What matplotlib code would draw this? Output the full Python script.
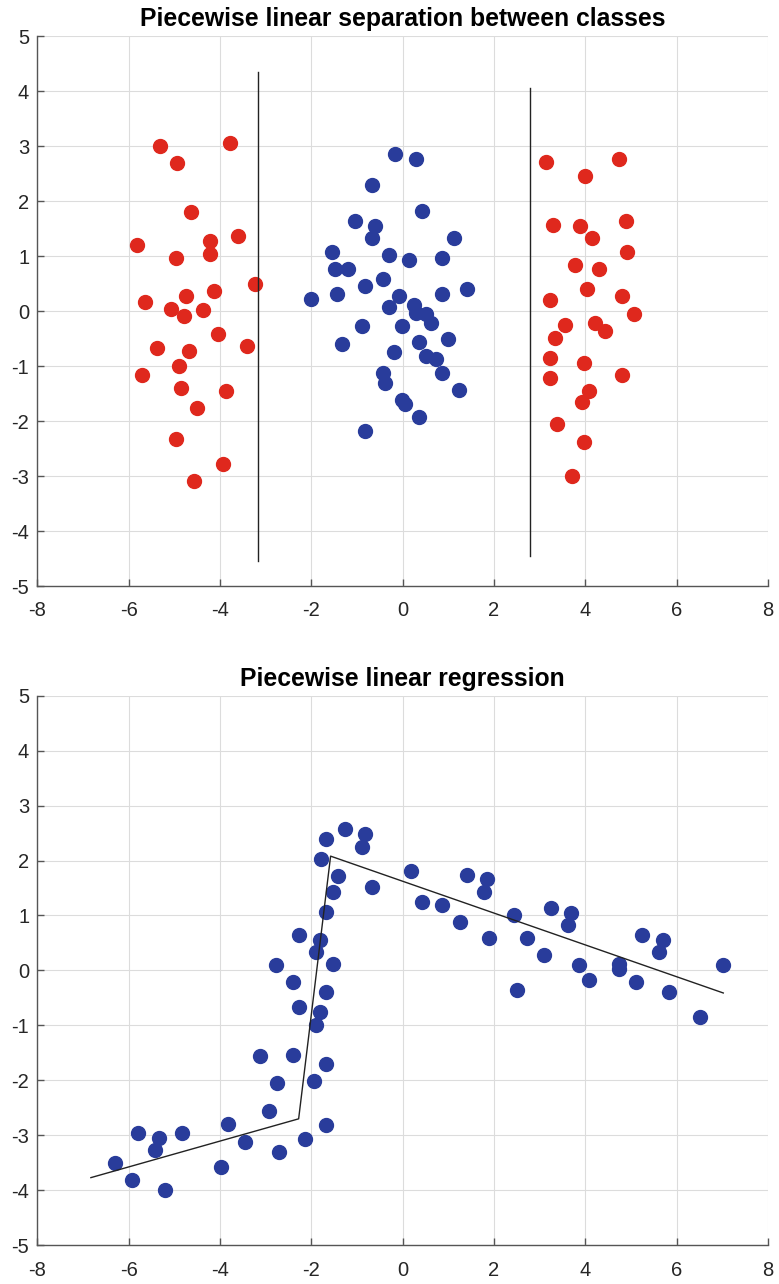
import numpy as np
import matplotlib
matplotlib.use('Agg')
import matplotlib.pyplot as plt

plt.rcParams['font.family'] = ['Liberation Sans', 'DejaVu Sans']
plt.rcParams['axes.unicode_minus'] = False

# top chart: two red groups, one blue group, two vertical separators
red_left_x = [-5.31, -3.79, -4.95, -4.64, -5.82, -4.23, -3.60, -4.23, -4.97, -3.23,
              -4.13, -4.75, -5.64, -5.08, -4.78, -4.38, -4.05, -3.42, -5.38, -4.68,
              -4.89, -5.71, -4.86, -3.86, -4.50, -4.97, -3.94, -4.57]
red_left_y = [3.01, 3.06, 2.70, 1.81, 1.20, 1.28, 1.36, 1.04, 0.96, 0.50,
              0.37, 0.28, 0.16, 0.03, -0.09, 0.01, -0.42, -0.64, -0.67, -0.73,
              -1.00, -1.16, -1.40, -1.46, -1.76, -2.33, -2.78, -3.09]

blue_mid_x = [-0.16, 0.29, -0.67, 0.43, -1.04, -0.60, -0.68, 1.13, -1.56, -0.30,
              0.14, 0.87, -1.48, -1.20, -0.44, -0.82, 1.40, -1.45, 0.87, -2.01,
              -0.08, -0.30, 0.25, 0.29, 0.51, 0.62, -0.89, -0.01, 0.36, 0.99,
              -1.34, -0.19, 0.50, 0.73, 0.87, -0.44, -0.38, 1.24, -0.01, 0.06,
              0.36, -0.82]
blue_mid_y = [2.86, 2.76, 2.30, 1.82, 1.63, 1.54, 1.33, 1.33, 1.08, 1.02,
              0.93, 0.96, 0.77, 0.77, 0.59, 0.46, 0.40, 0.31, 0.31, 0.22,
              0.28, 0.07, 0.11, -0.04, -0.06, -0.22, -0.27, -0.27, -0.57, -0.51,
              -0.60, -0.75, -0.82, -0.88, -1.13, -1.13, -1.31, -1.44, -1.61, -1.69,
              -1.92, -2.18]

red_right_x = [3.14, 4.74, 4.00, 3.30, 3.88, 4.88, 4.14, 4.92, 3.77, 4.29,
               4.03, 4.81, 3.22, 5.07, 3.55, 4.22, 4.44, 3.33, 3.22, 3.96,
               3.22, 4.80, 4.07, 3.92, 3.37, 3.96, 3.70]
red_right_y = [2.71, 2.77, 2.46, 1.57, 1.54, 1.63, 1.32, 1.08, 0.83, 0.77,
               0.40, 0.28, 0.21, -0.06, -0.25, -0.21, -0.37, -0.49, -0.85, -0.94,
               -1.22, -1.16, -1.46, -1.66, -2.05, -2.39, -3.00]

sep1_x = [-3.17, -3.17]
sep1_y = [4.35, -4.54]
sep2_x = [2.78, 2.78]
sep2_y = [4.05, -4.45]

# bottom chart: noisy points and the piecewise fit
reg_x = [-1.27, -1.67, -1.78, -1.42, -1.53, -1.67, -2.27, -1.82, -1.89, -1.53,
         -2.78, -2.41, -1.67, -2.27, -1.82, -1.89, -3.12, -2.41, -1.67, -2.76,
         -1.94, -2.94, -1.67, -3.83, -2.13, -3.45, -2.72, -5.79, -4.83, -5.33,
         -5.42, -6.31, -3.98, -5.94, -5.20,
         -0.82, -0.90, -0.67, 0.18, 0.43, 0.87, 1.25, 1.40, 1.84, 1.77,
         1.88, 2.44, 2.51, 2.73, 3.10, 3.25, 3.69, 3.62, 3.85, 4.07,
         4.73, 4.73, 5.10, 5.24, 5.70, 5.61, 5.84, 6.52, 7.02]
reg_y = [2.57, 2.39, 2.02, 1.72, 1.43, 1.07, 0.65, 0.56, 0.33, 0.12,
         0.10, -0.21, -0.39, -0.67, -0.76, -0.99, -1.56, -1.53, -1.71, -2.05,
         -2.01, -2.56, -2.81, -2.80, -3.06, -3.12, -3.30, -2.95, -2.95, -3.04,
         -3.26, -3.51, -3.57, -3.81, -3.99,
         2.49, 2.25, 1.52, 1.81, 1.25, 1.19, 0.89, 1.74, 1.66, 1.43,
         0.59, 1.01, -0.36, 0.59, 0.28, 1.13, 1.05, 0.83, 0.10, -0.18,
         0.12, 0.03, -0.21, 0.65, 0.56, 0.33, -0.39, -0.85, 0.10]

fit_x = [-6.83, -2.28, -1.58, 7.02]
fit_y = [-3.77, -2.70, 2.08, -0.41]

red = '#df281d'
blue = '#293c9b'
x_ticks = np.arange(-8, 9, 2)
y_ticks = np.arange(-5, 6, 1)


def style_axes(ax, title):
    ax.set_xlim(-8, 8)
    ax.set_ylim(-5, 5)
    ax.set_xticks(x_ticks)
    ax.set_yticks(y_ticks)
    ax.grid(True, color='#dcdcdc', linewidth=0.8)
    ax.set_axisbelow(True)
    ax.spines['top'].set_visible(False)
    ax.spines['right'].set_visible(False)
    for s in ['left', 'bottom']:
        ax.spines[s].set_color('#555555')
        ax.spines[s].set_linewidth(1.0)
    ax.tick_params(direction='in', length=5, width=1.0, color='#555555',
                   labelsize=14.5, labelcolor='#262626')
    ax.tick_params(axis='x', pad=11)
    ax.tick_params(axis='y', pad=6)
    ax.set_title(title, fontsize=17.8, fontweight='bold', pad=7)


fig = plt.figure(figsize=(7.79, 12.84), dpi=100)
ax1 = fig.add_axes([0.0481, 0.5436, 0.9378, 0.4283])
ax2 = fig.add_axes([0.0481, 0.0302, 0.9378, 0.4280])

ax1.plot(red_left_x, red_left_y, 'o', color=red, ms=10, mec=red, zorder=3)
ax1.plot(blue_mid_x, blue_mid_y, 'o', color=blue, ms=10, mec=blue, zorder=3)
ax1.plot(red_right_x, red_right_y, 'o', color=red, ms=10, mec=red, zorder=3)
ax1.plot(sep1_x, sep1_y, color='#222222', linewidth=1.0, zorder=4)
ax1.plot(sep2_x, sep2_y, color='#222222', linewidth=1.0, zorder=4)
style_axes(ax1, 'Piecewise linear separation between classes')

ax2.plot(reg_x, reg_y, 'o', color=blue, ms=10, mec=blue, zorder=3)
ax2.plot(fit_x, fit_y, color='#222222', linewidth=1.0, zorder=4)
style_axes(ax2, 'Piecewise linear regression')

fig.savefig('out.png', dpi=100)
